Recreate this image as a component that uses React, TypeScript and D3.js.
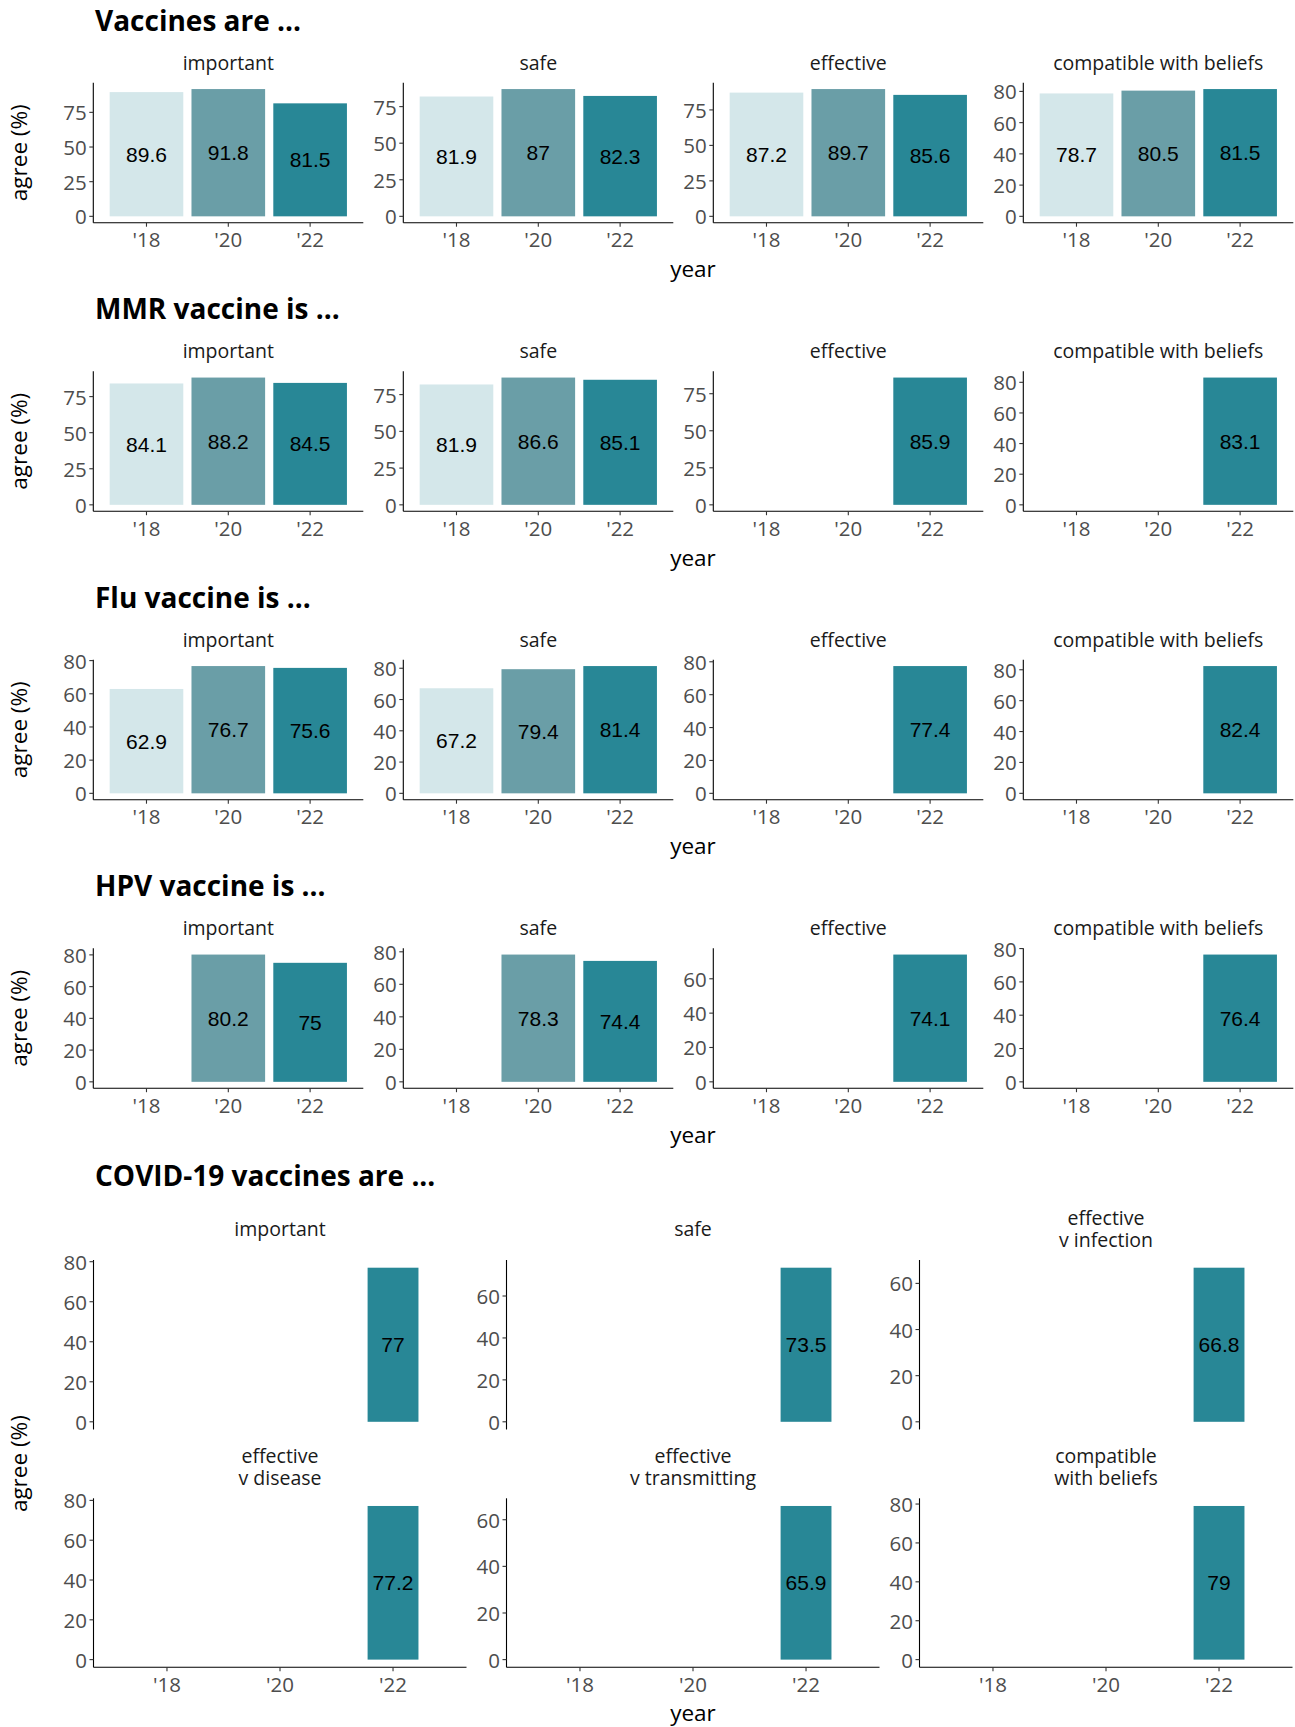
import React from "react";
import * as d3 from "d3";

// ---------- DATA ----------
const YEARS = ["'18", "'20", "'22"];
const YEAR_COLORS = ["#d4e7ea", "#6a9ea7", "#288796"];

const TICKS_25 = [0, 25, 50, 75];
const TICKS_20 = [0, 20, 40, 60, 80];
const TICKS_20_SHORT = [0, 20, 40, 60];

const FACETS_4 = ["important", "safe", "effective", "compatible with beliefs"];

const GENERAL_TITLE = "Vaccines are ...";
const GENERAL_VALUES = [
  [89.6, 91.8, 81.5],
  [81.9, 87, 82.3],
  [87.2, 89.7, 85.6],
  [78.7, 80.5, 81.5],
];
const GENERAL_TICKS = [TICKS_25, TICKS_25, TICKS_25, TICKS_20];

const MMR_TITLE = "MMR vaccine is ...";
const MMR_VALUES = [
  [84.1, 88.2, 84.5],
  [81.9, 86.6, 85.1],
  [null, null, 85.9],
  [null, null, 83.1],
];
const MMR_TICKS = [TICKS_25, TICKS_25, TICKS_25, TICKS_20];

const FLU_TITLE = "Flu vaccine is ...";
const FLU_VALUES = [
  [62.9, 76.7, 75.6],
  [67.2, 79.4, 81.4],
  [null, null, 77.4],
  [null, null, 82.4],
];
const FLU_TICKS = [TICKS_20, TICKS_20, TICKS_20, TICKS_20];

const HPV_TITLE = "HPV vaccine is ...";
const HPV_VALUES = [
  [null, 80.2, 75],
  [null, 78.3, 74.4],
  [null, null, 74.1],
  [null, null, 76.4],
];
const HPV_TICKS = [TICKS_20, TICKS_20, TICKS_20_SHORT, TICKS_20];

const COVID_TITLE = "COVID-19 vaccines are ...";
const COVID_FACETS = [
  "important",
  "safe",
  "effective\nv infection",
  "effective\nv disease",
  "effective\nv transmitting",
  "compatible\nwith beliefs",
];
const COVID_VALUES = [
  [null, null, 77],
  [null, null, 73.5],
  [null, null, 66.8],
  [null, null, 77.2],
  [null, null, 65.9],
  [null, null, 79],
];
const COVID_TICKS = [TICKS_20, TICKS_20_SHORT, TICKS_20_SHORT, TICKS_20, TICKS_20_SHORT, TICKS_20];

const X_TITLE = "year";
const Y_TITLE = "agree (%)";

// ---------- STYLE ----------
const FONT = "'Open Sans', sans-serif";
const LABEL_FONT = "'Liberation Sans', Arial, sans-serif";
const TICK_COLOR = "#4d4d4d";
const TICK_SIZE = 20.5;

type Vals = (number | null)[];

function Panel(props: {
  x0: number; w: number; top: number; bottom: number; values: Vals; ticks: number[];
  barFrac: number; showX: boolean;
}) {
  const { x0, w, top, bottom, values, ticks, barFrac, showX } = props;
  const x = d3.scalePoint<string>().domain(YEARS).range([x0, x0 + w]).padding(0.65);
  const maxV = d3.max(values.filter((v) => v != null) as number[]) as number;
  const y = d3.scaleLinear().domain([-0.05 * maxV, 1.05 * maxV]).range([bottom, top]);
  const bw = x.step() * barFrac;
  return (
    <g>
      {values.map((v, i) =>
        v == null ? null : (
          <g key={i}>
            <rect
              x={(x(YEARS[i]) as number) - bw / 2}
              y={y(v)}
              width={bw}
              height={y(0) - y(v)}
              fill={YEAR_COLORS[i]}
            />
            <text
              x={x(YEARS[i]) as number}
              y={y(v / 2)}
              textAnchor="middle"
              dominantBaseline="central"
              fontFamily={LABEL_FONT}
              fontSize={21}
              fill="#000"
            >
              {String(v)}
            </text>
          </g>
        )
      )}
      <line x1={x0} x2={x0} y1={top} y2={bottom} stroke="#000" strokeWidth={1.1} />
      {ticks.map((t) => (
        <g key={t}>
          <line x1={x0 - 4} x2={x0} y1={y(t)} y2={y(t)} stroke="#333" strokeWidth={1.1} />
          <text
            x={x0 - 6.5}
            y={y(t)}
            textAnchor="end"
            dominantBaseline="central"
            fontFamily={FONT}
            fontSize={TICK_SIZE}
            fill={TICK_COLOR}
          >
            {t}
          </text>
        </g>
      ))}
      {showX && (
        <g>
          <line x1={x0} x2={x0 + w} y1={bottom} y2={bottom} stroke="#000" strokeWidth={1.1} />
          {YEARS.map((yr) => (
            <g key={yr}>
              <line x1={x(yr) as number} x2={x(yr) as number} y1={bottom} y2={bottom + 4} stroke="#333" strokeWidth={1.1} />
              <text
                x={x(yr) as number}
                y={bottom + 24.5}
                textAnchor="middle"
                fontFamily={FONT}
                fontSize={TICK_SIZE}
                fill={TICK_COLOR}
              >
                {yr}
              </text>
            </g>
          ))}
        </g>
      )}
    </g>
  );
}

function Strip(props: { cx: number; centerBaseline: number; label: string }) {
  const lines = props.label.split("\n");
  const first = props.centerBaseline - ((lines.length - 1) / 2) * 22;
  return (
    <text
      x={props.cx}
      y={first}
      textAnchor="middle"
      fontFamily={FONT}
      fontSize={19.5}
      fill="#1a1a1a"
    >
      {lines.map((l, i) => (
        <tspan key={i} x={props.cx} dy={i === 0 ? 0 : 22}>
          {l}
        </tspan>
      ))}
    </text>
  );
}

function Title(props: { y: number; text: string }) {
  return (
    <text x={95} y={props.y} fontFamily={FONT} fontWeight={700} fontSize={28} fill="#000">
      {props.text}
    </text>
  );
}

function YTitle(props: { cy: number }) {
  return (
    <text
      transform={`translate(27,${props.cy}) rotate(-90)`}
      textAnchor="middle"
      fontFamily={FONT}
      fontSize={22.5}
      fill="#000"
    >
      {Y_TITLE}
    </text>
  );
}

function XTitle(props: { y: number }) {
  return (
    <text x={693} y={props.y} textAnchor="middle" fontFamily={FONT} fontSize={22.5} fill="#000">
      {X_TITLE}
    </text>
  );
}

const ROW_PITCH = 288.5;

function FourRow(props: { r: number; title: string; values: Vals[]; ticks: number[][] }) {
  const off = props.r * ROW_PITCH;
  const top = 82.7 + off;
  const bottom = 222.7 + off;
  const w = 270;
  return (
    <g>
      <Title y={30.7 + off} text={props.title} />
      {FACETS_4.map((f, c) => {
        const x0 = 93.3 + c * 310;
        return (
          <g key={f}>
            <Strip cx={x0 + w / 2} centerBaseline={69.5 + off} label={f} />
            <Panel
              x0={x0}
              w={w}
              top={top}
              bottom={bottom}
              values={props.values[c]}
              ticks={props.ticks[c]}
              barFrac={0.9}
              showX={true}
            />
          </g>
        );
      })}
      <YTitle cy={(top + bottom) / 2} />
      <XTitle y={bottom + 54.5} />
    </g>
  );
}

function CovidBlock() {
  const off = 4 * ROW_PITCH;
  const w = 373;
  const rows = [
    { top: 1260, bottom: 1429.5, strip: 1235.5, showX: false },
    { top: 1498.3, bottom: 1667.3, strip: 1473.5, showX: true },
  ];
  return (
    <g>
      <Title y={31.7 + off} text={COVID_TITLE} />
      {COVID_FACETS.map((f, i) => {
        const r = Math.floor(i / 3);
        const c = i % 3;
        const x0 = 93.5 + c * 413;
        const row = rows[r];
        return (
          <g key={f}>
            <Strip cx={x0 + w / 2} centerBaseline={row.strip} label={f} />
            <Panel
              x0={x0}
              w={w}
              top={row.top}
              bottom={row.bottom}
              values={COVID_VALUES[i]}
              ticks={COVID_TICKS[i]}
              barFrac={0.45}
              showX={row.showX}
            />
          </g>
        );
      })}
      <YTitle cy={(rows[0].top + rows[1].bottom) / 2} />
      <XTitle y={rows[1].bottom + 53.5} />
    </g>
  );
}

export default function App() {
  return (
    <svg
      width={1295}
      height={1727}
      style={{ position: "absolute", left: 0, top: 0, background: "#fff" }}
    >
      <rect x={0} y={0} width={1295} height={1727} fill="#fff" />
      <FourRow r={0} title={GENERAL_TITLE} values={GENERAL_VALUES} ticks={GENERAL_TICKS} />
      <FourRow r={1} title={MMR_TITLE} values={MMR_VALUES} ticks={MMR_TICKS} />
      <FourRow r={2} title={FLU_TITLE} values={FLU_VALUES} ticks={FLU_TICKS} />
      <FourRow r={3} title={HPV_TITLE} values={HPV_VALUES} ticks={HPV_TICKS} />
      <CovidBlock />
    </svg>
  );
}
